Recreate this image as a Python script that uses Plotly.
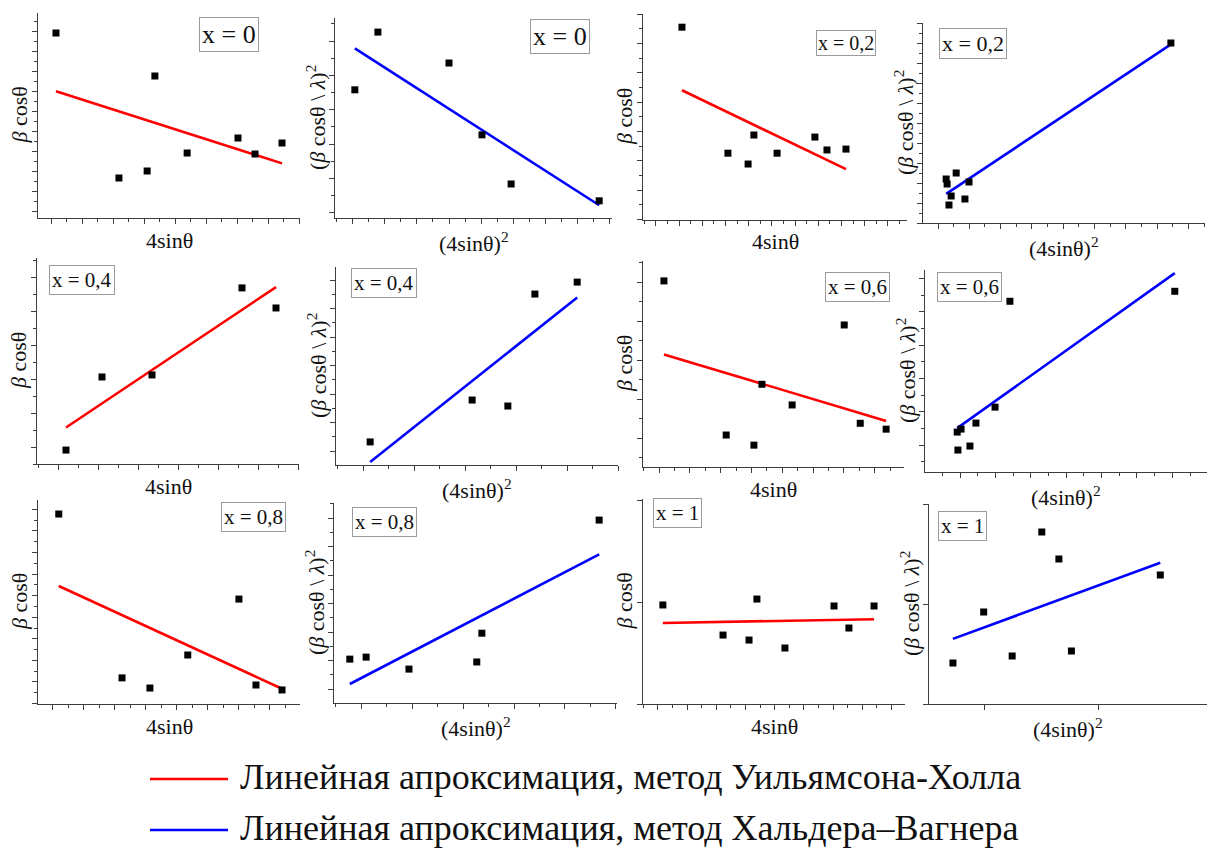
import numpy as np
import plotly.graph_objects as go

FIG_W, FIG_H = 1213, 850
FONT = "Liberation Serif"

# Compositions shown in the panels
compositions = ["x = 0", "x = 0,2", "x = 0,4", "x = 0,6", "x = 0,8", "x = 1"]

# Williamson–Hall data: β cosθ versus 4 sinθ (units = major tick spacing)
wh_x00_sin = [0.16, 2.19, 3.10, 3.35, 4.39, 6.03, 6.58, 7.45]
wh_x00_bcos = [8.90, 1.65, 2.00, 6.75, 2.90, 3.65, 2.85, 3.40]
wh_x02_sin = [1.12, 3.10, 3.97, 4.22, 5.22, 6.85, 7.37, 8.19]
wh_x02_bcos = [5.56, 1.26, 0.89, 1.88, 1.26, 1.81, 1.37, 1.40]
wh_x04_sin = [0.20, 1.10, 2.35, 4.60, 5.45]
wh_x04_bcos = [-0.09, 2.06, 2.12, 4.68, 4.09]
wh_x06_sin = [0.16, 2.18, 3.08, 3.34, 4.32, 6.01, 6.53, 7.37]
wh_x06_bcos = [4.03, 0.08, -0.18, 1.38, 0.85, 2.90, 0.38, 0.23]
wh_x08_sin = [0.19, 2.23, 3.13, 4.35, 6.00, 6.55, 7.39]
wh_x08_bcos = [7.78, 0.19, -0.28, 1.25, 3.84, -0.14, -0.37]
wh_x10_sin = [0.17, 2.23, 3.12, 3.39, 4.35, 6.03, 6.54, 7.40]
wh_x10_bcos = [0.971, 0.676, 0.627, 1.029, 0.549, 0.961, 0.745, 0.961]

# Halder–Wagner data: (β cosθ / λ)^2 versus (4 sinθ)^2
hw_x00_sin2 = [0.06, 0.78, 3.00, 4.03, 4.94, 7.69]
hw_x00_bcl2 = [3.58, 5.26, 4.36, 2.27, 0.84, 0.35]
hw_x02_sin2 = [0.26, 0.29, 0.58, 0.42, 0.35, 0.99, 0.86, 7.44]
hw_x02_bcl2 = [1.20, 0.95, 1.50, 0.35, -0.10, 1.05, 0.20, 8.00]
hw_x04_sin2 = [0.14, 2.14, 2.84, 3.37, 4.20]
hw_x04_bcl2 = [0.32, 1.79, 1.58, 5.51, 5.93]
hw_x06_sin2 = [-0.08, 0.03, 0.45, -0.06, 0.28, 0.99, 1.41, 6.07]
hw_x06_bcl2 = [0.39, 0.48, 0.66, -0.15, -0.03, 1.14, 4.32, 4.62]
hw_x08_sin2 = [-0.22, 0.10, 0.94, 2.27, 2.37, 4.67]
hw_x08_bcl2 = [1.05, 1.12, 0.70, 0.95, 1.96, 5.93]
hw_x10_sin2 = [-0.28, -0.01, 0.24, 0.50, 0.65, 0.76, 1.54]
hw_x10_bcl2 = [0.41, 0.92, 0.48, 1.72, 1.45, 0.53, 1.29]

RED, BLUE = "#ff0000", "#0000ff"
AXIS_COLOR = "#3c3c3c"

# Panel layout: plot box in pixels (left, right, bottom, top), axis ranges,
# minor-tick flags, and the composition tag (centre in pixels, font size)
panels = [
    dict(x=wh_x00_sin, y=wh_x00_bcos, kind="wh", tag=0, box=(38, 300, 218, 13),
         xr=(-0.42, 8.03), yr=(-0.35, 9.9), minor=(True, True), tag_at=(229, 34), tag_size=26),
    dict(x=hw_x00_sin2, y=hw_x00_bcl2, kind="hw", tag=0, box=(335, 612, 218, 18),
         xr=(-0.56, 8.09), yr=(-0.15, 5.67), minor=(True, True), tag_at=(560, 36), tag_size=26),
    dict(x=wh_x02_sin, y=wh_x02_bcos, kind="wh", tag=1, box=(643, 907, 220, 14),
         xr=(-0.56, 10.82), yr=(-1.02, 6.01), minor=(True, True), tag_at=(846, 43), tag_size=20),
    dict(x=hw_x02_sin2, y=hw_x02_bcl2, kind="hw", tag=1, box=(923, 1205, 223, 23),
         xr=(-0.48, 8.53), yr=(-1.0, 9.0), minor=(True, True), tag_at=(973, 44), tag_size=22),
    dict(x=wh_x04_sin, y=wh_x04_bcos, kind="wh", tag=2, box=(37, 299, 464, 258),
         xr=(-0.525, 6.025), yr=(-0.5, 5.56), minor=(True, True), tag_at=(82, 280), tag_size=21),
    dict(x=hw_x04_sin2, y=hw_x04_bcl2, kind="hw", tag=2, box=(336, 618, 465, 267),
         xr=(-0.53, 5.0), yr=(-0.49, 6.46), minor=(True, True), tag_at=(384, 283), tag_size=21),
    dict(x=wh_x06_sin, y=wh_x06_bcos, kind="wh", tag=3, box=(643, 904, 467, 261),
         xr=(-0.52, 7.95), yr=(-0.74, 4.54), minor=(True, True), tag_at=(857, 287), tag_size=21),
    dict(x=hw_x06_sin2, y=hw_x06_bcl2, kind="hw", tag=3, box=(925, 1207, 472, 270),
         xr=(-0.99, 6.98), yr=(-0.81, 5.26), minor=(True, True), tag_at=(969, 287), tag_size=21),
    dict(x=wh_x08_sin, y=wh_x08_bcos, kind="wh", tag=4, box=(38, 300, 704, 500),
         xr=(-0.48, 7.97), yr=(-1.02, 8.43), minor=(True, True), tag_at=(253, 517), tag_size=21),
    dict(x=hw_x08_sin2, y=hw_x08_bcl2, kind="hw", tag=4, box=(334, 617, 703, 503),
         xr=(-0.53, 5.02), yr=(-0.49, 6.53), minor=(True, True), tag_at=(384, 522), tag_size=21),
    dict(x=wh_x10_sin, y=wh_x10_bcos, kind="wh", tag=5, box=(643, 905, 704, 499),
         xr=(-0.51, 8.46), yr=(0.0, 2.01), minor=(True, False), tag_at=(678, 513), tag_size=21),
    dict(x=hw_x10_sin2, y=hw_x10_bcl2, kind="hw", tag=5, box=(929, 1207, 704, 504),
         xr=(-0.49, 1.95), yr=(0.0, 2.0), minor=(False, False), tag_at=(962, 526), tag_size=21),
]

LABELS = {
    "wh": ("4sinθ", "<i>β</i> cosθ", RED),
    "hw": ("(4sinθ)<sup>2</sup>", "(<i>β</i> cosθ \\ <i>λ</i>)<sup>2</sup>", BLUE),
}


def px_x(v):
    return v / FIG_W


def px_y(v):
    return 1 - v / FIG_H


fig = go.Figure()
annotations = []
shapes = []

for i, p in enumerate(panels, start=1):
    sfx = "" if i == 1 else str(i)
    xa, ya = "x" + sfx, "y" + sfx
    xt, yt, color = LABELS[p["kind"]]
    xs = np.asarray(p["x"], dtype=float)
    ys = np.asarray(p["y"], dtype=float)

    # least-squares straight line through the points
    k, b = np.polyfit(xs, ys, 1)
    fx = np.array([xs.min(), xs.max()])
    fig.add_trace(go.Scatter(x=fx, y=k * fx + b, mode="lines", xaxis=xa, yaxis=ya,
                             line=dict(color=color, width=2.6), hoverinfo="skip"))
    fig.add_trace(go.Scatter(x=xs, y=ys, mode="markers", xaxis=xa, yaxis=ya,
                             marker=dict(symbol="square", size=7, color="black",
                                         line=dict(width=0))))

    left, right, bottom, top = p["box"]
    common = dict(showgrid=False, zeroline=False, showline=True, linecolor=AXIS_COLOR,
                  linewidth=1.3, ticks="outside", ticklen=5, tickwidth=1.1,
                  tickcolor=AXIS_COLOR, showticklabels=False, tickmode="linear",
                  tick0=0, dtick=1, fixedrange=True)
    xm, ym = p["minor"]
    xaxis = dict(common, domain=[px_x(left), px_x(right)], range=list(p["xr"]), anchor=ya)
    yaxis = dict(common, domain=[px_y(bottom), px_y(top)], range=list(p["yr"]), anchor=xa)
    if xm:
        xaxis["minor"] = dict(ticks="outside", ticklen=3, tickwidth=1, tickcolor=AXIS_COLOR,
                              tick0=0, dtick=0.5)
    if ym:
        yaxis["minor"] = dict(ticks="outside", ticklen=3, tickwidth=1, tickcolor=AXIS_COLOR,
                              tick0=0, dtick=0.5)
    fig.update_layout(**{"xaxis" + sfx: xaxis, "yaxis" + sfx: yaxis})

    # axis titles
    x_off = 22 if p["kind"] == "wh" else 24
    annotations.append(dict(x=px_x((left + right) / 2), y=px_y(bottom + x_off), xref="paper",
                            yref="paper", text=xt, showarrow=False, xanchor="center",
                            yanchor="middle", font=dict(family=FONT, size=22, color="#111")))
    annotations.append(dict(x=px_x(left - 19), y=px_y((bottom + top) / 2), xref="paper",
                            yref="paper", text=yt, showarrow=False, textangle=-90,
                            xanchor="center", yanchor="middle",
                            font=dict(family=FONT, size=22, color="#111")))
    # composition tag
    tx, ty = p["tag_at"]
    annotations.append(dict(x=px_x(tx), y=px_y(ty), xref="paper", yref="paper",
                            text=compositions[p["tag"]], showarrow=False,
                            xanchor="center", yanchor="middle",
                            font=dict(family=FONT, size=p["tag_size"], color="#111"),
                            bordercolor="#9a9a9a", borderwidth=1,
                            borderpad=1 if p["tag"] == 1 and p["kind"] == "wh" else 2,
                            bgcolor="white"))

# legend drawn below the grid
legend_items = [
    ("Линейная апроксимация, метод Уильямсона-Холла", RED, 779),
    ("Линейная апроксимация, метод Хальдера–Вагнера", BLUE, 830),
]
for text, color, yy in legend_items:
    shapes.append(dict(type="line", xref="paper", yref="paper", x0=px_x(150), x1=px_x(228),
                       y0=px_y(yy), y1=px_y(yy), line=dict(color=color, width=2.6)))
    annotations.append(dict(x=px_x(238), y=px_y(yy - 2), xref="paper", yref="paper",
                            text=text, showarrow=False, xanchor="left", yanchor="middle",
                            font=dict(family=FONT, size=36, color="#111")))

fig.update_layout(width=FIG_W, height=FIG_H, margin=dict(l=0, r=0, t=0, b=0),
                  paper_bgcolor="white", plot_bgcolor="white", showlegend=False,
                  annotations=annotations, shapes=shapes)

fig.write_html("out.html")
